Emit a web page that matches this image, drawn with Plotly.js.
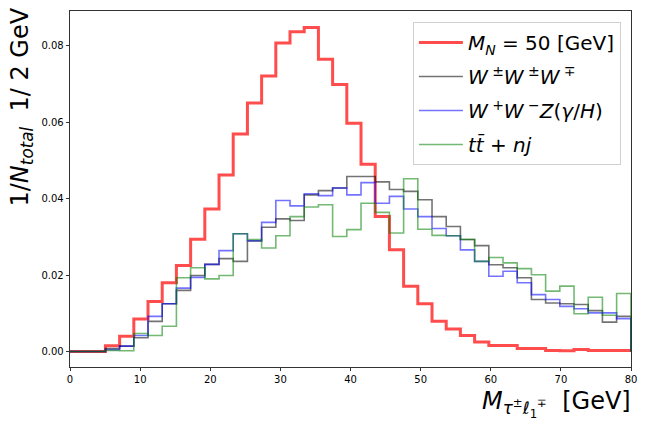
<!DOCTYPE html>
<html>
<head>
<meta charset="utf-8">
<script src="https://cdn.plot.ly/plotly-3.0.1.min.js"></script>
<style>html,body{margin:0;padding:0;background:#fff;}#chart{width:648px;height:432px;}</style>
</head>
<body>
<div id="chart"></div>
<script>
// Histogram bin edges (GeV)
const binEdges = [-1.025, 1.0, 3.025, 5.05, 7.075, 9.1, 11.125, 13.15, 15.175, 17.2, 19.225,
  21.25, 23.275, 25.3, 27.325, 29.35, 31.375, 33.4, 35.425, 37.45, 39.475,
  41.5, 43.525, 45.55, 47.575, 49.6, 51.625, 53.65, 55.675, 57.7, 59.725,
  61.75, 63.775, 65.8, 67.825, 69.85, 71.875, 73.9, 75.925, 77.95, 79.975];

// Normalised bin contents (one per bin)
const signalMN50 = [0, 0, 0, 0.0015, 0.0040, 0.0085, 0.0131, 0.0180, 0.0225, 0.0294,
  0.0373, 0.0462, 0.0569, 0.0650, 0.0721, 0.0807, 0.0837, 0.0848, 0.0765, 0.0699,
  0.0597, 0.0490, 0.0353, 0.0266, 0.0171, 0.0125, 0.0079, 0.0059, 0.0042, 0.0025,
  0.0016, 0.0016, 0.0008, 0.0008, 0.0003, 0.0002, 0.0005, 0.0003, 0.0003, 0.0003];

const bkgWWW = [0, 0, 0, 0.0008, 0.0014, 0.0036, 0.0079, 0.0125, 0.0160, 0.0199,
  0.0228, 0.0243, 0.0236, 0.0289, 0.0325, 0.0347, 0.0343, 0.0410, 0.0421, 0.0428,
  0.0458, 0.0458, 0.0444, 0.0424, 0.0419, 0.0397, 0.0353, 0.0327, 0.0293, 0.0277,
  0.0227, 0.0219, 0.0193, 0.0136, 0.0127, 0.0125, 0.0123, 0.0107, 0.0077, 0.0092];

const bkgWWZ = [0, 0, 0, 0.0005, 0.0014, 0.0042, 0.0092, 0.0125, 0.0166, 0.0194,
  0.0228, 0.0264, 0.0308, 0.0290, 0.0338, 0.0395, 0.0381, 0.0413, 0.0408, 0.0428,
  0.0410, 0.0442, 0.0388, 0.0406, 0.0373, 0.0353, 0.0322, 0.0303, 0.0266, 0.0236,
  0.0197, 0.0210, 0.0180, 0.0149, 0.0136, 0.0118, 0.0112, 0.0101, 0.0101, 0.0086];

const bkgTT = [0, 0, 0, 0.0003, 0.0002, 0.0047, 0.0042, 0.0066, 0.0193, 0.0219,
  0.0190, 0.0199, 0.0308, 0.0293, 0.0271, 0.0303, 0.0353, 0.0378, 0.0384, 0.0301,
  0.0319, 0.0388, 0.0364, 0.0310, 0.0452, 0.0320, 0.0304, 0.0303, 0.0293, 0.0236,
  0.0246, 0.0232, 0.0217, 0.0201, 0.0158, 0.0171, 0.0099, 0.0142, 0.0095, 0.0152];

const seriesNames = [
  '<i>M</i><sub><i>N</i></sub> = 50 [GeV]',
  '<i>W</i><sup> ±</sup><i>W</i><sup> ±</sup><i>W</i><sup> ∓</sup>',
  '<i>W</i><sup> +</sup><i>W</i><sup> −</sup><i>Z</i>(<i>γ</i>/<i>H</i>)',
  '<i>t</i><i>t̄</i> + <i>nj</i>'
];
const tickVals = [0, 10, 20, 30, 40, 50, 60, 70, 80];
const yTickVals = [0, 0.02, 0.04, 0.06, 0.08];

function stepTrace(vals, name, color, width, group) {
  const x = [], y = [];
  for (let i = 0; i < vals.length; i++) { x.push(binEdges[i]); y.push(vals[i]); }
  x.push(binEdges[binEdges.length - 1]); y.push(vals[vals.length - 1]);
  x.push(binEdges[binEdges.length - 1]); y.push(0);
  return {x: x, y: y, type: 'scatter', mode: 'lines', name: name, legendgroup: group,
    line: {shape: 'hv', color: color, width: width}, hoverinfo: 'skip'};
}

const traces = [
  stepTrace(signalMN50, seriesNames[0], 'rgba(255,0,0,0.7)', 3, 'a'),
  stepTrace(bkgWWW, seriesNames[1], 'rgba(0,0,0,0.55)', 1.6, 'b'),
  stepTrace(bkgWWZ, seriesNames[2], 'rgba(0,0,255,0.55)', 1.6, 'c'),
  stepTrace(bkgTT, seriesNames[3], 'rgba(0,128,0,0.55)', 1.6, 'd')
];

const font = 'DejaVu Sans, sans-serif';
const layout = {
  width: 648, height: 432,
  margin: {l: 70, r: 17, t: 11, b: 64.5, pad: 0},
  paper_bgcolor: '#fff', plot_bgcolor: '#fff',
  font: {family: font, color: '#000', size: 10},
  showlegend: true,
  legend: {x: 0.982, y: 0.969, xanchor: 'right', yanchor: 'top',
    bgcolor: 'rgba(255,255,255,0.8)', bordercolor: '#d0d0d0', borderwidth: 1,
    itemwidth: 44, tracegroupgap: 5,
    font: {family: font, size: 20, color: '#000'}},
  xaxis: {range: [0, 80], tickvals: tickVals, ticks: 'outside', ticklen: 3.5, tickwidth: 0.8,
    tickcolor: '#000', showline: true, mirror: true, linecolor: '#000', linewidth: 0.8,
    showgrid: false, zeroline: false, tickfont: {family: font, size: 10, color: '#000'}},
  yaxis: {range: [-0.00405, 0.0891], tickvals: yTickVals, tickformat: '.2f', ticks: 'outside',
    ticklen: 3.5, tickwidth: 0.8, tickcolor: '#000', showline: true, mirror: true,
    linecolor: '#000', linewidth: 0.8, showgrid: false, zeroline: false,
    tickfont: {family: font, size: 10, color: '#000'}},
  annotations: [
    {text: '1/<i>N</i><sub><i>total</i></sub>  1/ 2 GeV', xref: 'paper', yref: 'paper',
      x: 0, y: 1, xanchor: 'center', yanchor: 'top', xshift: -49, yshift: 5, textangle: -90,
      showarrow: false, font: {family: font, size: 24, color: '#000'}},
    {text: '<i>M</i><sub><i>τ</i><sup>±</sup><i>ℓ</i><sub>1</sub><sup>∓</sup></sub>  [GeV]',
      xref: 'paper', yref: 'paper', x: 1, y: 0, xanchor: 'right', yanchor: 'top',
      xshift: 2, yshift: -18, showarrow: false, font: {family: font, size: 24, color: '#000'}}
  ]
};

Plotly.newPlot('chart', traces, layout, {displayModeBar: false, staticPlot: true});
</script>
</body>
</html>
